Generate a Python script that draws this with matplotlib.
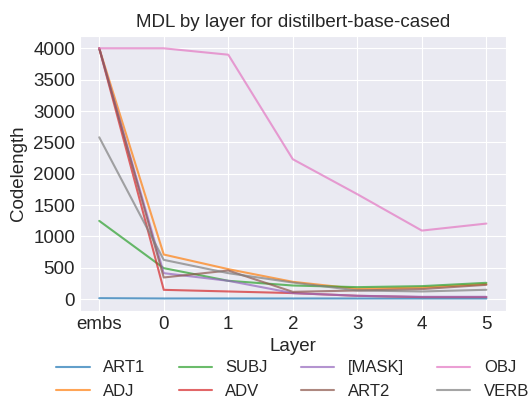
import matplotlib
matplotlib.use("Agg")
import matplotlib.pyplot as plt
import seaborn as sns

sns.set_style("darkgrid")
plt.rcParams['font.family'] = ['Liberation Sans', 'DejaVu Sans']

layers = ["embs", "0", "1", "2", "3", "4", "5"]

art1 = [15, 10, 10, 10, 10, 10, 10]
adj = [4000, 711, 478, 276, 164, 185, 239]
subj = [1248, 494, 292, 217, 191, 207, 260]
adv = [4000, 148, 122, 96, 53, 32, 32]
mask = [4000, 414, 292, 96, 53, 37, 37]
art2 = [4000, 345, 456, 116, 138, 160, 228]
obj = [4000, 4000, 3898, 2231, 1673, 1093, 1205]
verb = [2581, 626, 414, 265, 138, 122, 149]

series = [("ART1", art1), ("ADJ", adj), ("SUBJ", subj), ("ADV", adv),
          ("[MASK]", mask), ("ART2", art2), ("OBJ", obj), ("VERB", verb)]

fig = plt.figure(figsize=(5.29, 4.0), dpi=100)
ax = fig.add_axes([0.151, 0.2225, 0.805, 0.688])

xs = list(range(len(layers)))
for i, (name, vals) in enumerate(series):
    ax.plot(xs, vals, color="C%d" % i, alpha=0.7, label=name, lw=1.5)

ax.set_xticks(xs)
ax.set_xticklabels(layers)
ax.tick_params(labelsize=13.5, length=0)
ax.set_xlabel("Layer", fontsize=13.5, labelpad=4)
ax.set_ylabel("Codelength", fontsize=13.5)
ax.set_title("MDL by layer for distilbert-base-cased", fontsize=13.5)
ax.set_yticks([0, 500, 1000, 1500, 2000, 2500, 3000, 3500, 4000])

ax.legend(loc="upper center", bbox_to_anchor=(0.5, -0.125), ncol=4,
          frameon=False, fontsize=12, handlelength=2, columnspacing=2.0)

fig.savefig("out.png", dpi=100)
